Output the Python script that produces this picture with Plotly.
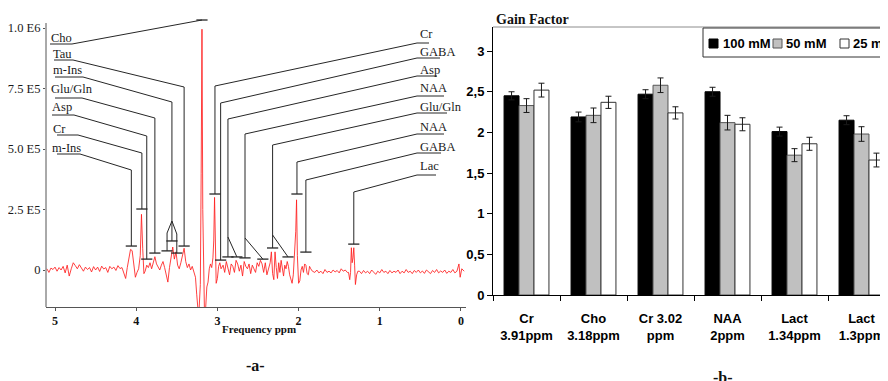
import plotly.graph_objects as go

# window is 888x381; the page body has an 8px margin, so the figure is 880x373
WIN_W, WIN_H = 888, 381
OX, OY = 8, 8
FW, FH = WIN_W - OX, WIN_H - OY

# ---------------- panel (a): spectrum data (intensity in units of 1e5) ----------------
ppm = [
    5.100, 5.075, 5.050, 5.025, 5.000, 4.975, 4.950, 4.925, 4.900, 4.875,
    4.850, 4.825, 4.800, 4.775, 4.750, 4.725, 4.700, 4.675, 4.650, 4.625,
    4.600, 4.575, 4.550, 4.525, 4.500, 4.475, 4.450, 4.425, 4.400, 4.375,
    4.350, 4.325, 4.300, 4.275, 4.250, 4.225, 4.200, 4.175, 4.150,
    4.13, 4.11, 4.09, 4.07, 4.05, 4.03, 4.01, 3.99, 3.97, 3.95,
    3.935, 3.92, 3.905, 3.89, 3.87, 3.85, 3.83, 3.81, 3.79, 3.77,
    3.75, 3.73, 3.71, 3.69, 3.67, 3.65, 3.63, 3.61, 3.59, 3.57,
    3.55, 3.53, 3.51, 3.49, 3.47, 3.45, 3.43, 3.41, 3.39, 3.37,
    3.35, 3.33, 3.31, 3.29,
    3.27, 3.255, 3.24, 3.225, 3.21, 3.20, 3.19, 3.18, 3.17, 3.16,
    3.145, 3.13, 3.115, 3.10, 3.085, 3.07, 3.055, 3.045, 3.035, 3.025,
    3.015, 3.00, 2.985, 2.97, 2.955,
    2.93, 2.91, 2.89, 2.87, 2.85, 2.83, 2.81, 2.79, 2.77, 2.75,
    2.73, 2.71, 2.69, 2.67, 2.65, 2.63, 2.61, 2.59, 2.57, 2.55,
    2.53, 2.51, 2.49, 2.47, 2.45, 2.43, 2.41, 2.39, 2.37, 2.35,
    2.335, 2.32, 2.305, 2.29, 2.275, 2.26, 2.245, 2.23, 2.215, 2.20,
    2.185, 2.17, 2.155, 2.14, 2.125, 2.11, 2.095, 2.08, 2.065, 2.05,
    2.035, 2.025, 2.015, 2.00, 1.985, 1.97, 1.955, 1.94, 1.925, 1.91,
    1.895, 1.88, 1.865, 1.85, 1.83,
    1.800, 1.775, 1.750, 1.725, 1.700, 1.675, 1.650, 1.625, 1.600, 1.575,
    1.550, 1.525, 1.500, 1.475, 1.450, 1.425, 1.400,
    1.385, 1.37, 1.36, 1.35, 1.34, 1.33, 1.32, 1.31, 1.30, 1.285, 1.27,
    1.250, 1.225, 1.200, 1.175, 1.150, 1.125, 1.100, 1.075, 1.050, 1.025,
    1.000, 0.975, 0.950, 0.925, 0.900, 0.875, 0.850, 0.825, 0.800, 0.775,
    0.750, 0.725, 0.700, 0.675, 0.650, 0.625, 0.600, 0.575, 0.550, 0.525,
    0.500, 0.475, 0.450, 0.425, 0.400, 0.375, 0.350, 0.325, 0.300, 0.275,
    0.250, 0.225, 0.200, 0.175, 0.150, 0.125, 0.100, 0.075, 0.050,
    0.025, 0.010, -0.010, -0.040,
]
intensity = [
    0.05, -0.10, 0.08, 0.02, 0.12, -0.05, 0.10, 0.00, 0.15, -0.12,
    0.20, -0.25, 0.05, 0.30, 0.18, 0.05, 0.22, 0.08, -0.05, 0.12,
    0.02, 0.10, -0.08, 0.14, 0.00, 0.12, -0.06, 0.16, 0.04, 0.10,
    -0.10, 0.15, 0.05, 0.12, -0.02, 0.18, 0.06, 0.10, -0.15,
    -0.35, 0.10, 0.45, 0.85, 0.80, 0.20, -0.30, -0.10, 0.05, 0.60,
    2.30, 0.90, -0.15, -0.05, 0.20, 0.10, 0.30, 0.05, 0.35, 0.55,
    0.25, 0.10, 0.00, 0.20, 0.35, 0.10, -0.25, -0.50, 0.10, 0.60,
    0.95, 0.45, 0.75, 0.20, 0.05, 0.30, 0.60, 0.90, 0.35, 0.10,
    0.25, 0.00, 0.15, -0.05,
    -0.30, -1.00, -1.60, -1.60, -0.60, 4.00, 9.95, 2.50, -1.00, -1.60,
    -1.60, -0.70, -0.50, 0.05, 0.25, 0.10, 0.50, 1.20, 3.00, 1.00,
    -0.55, -0.35, 0.15, 0.30, 0.05,
    0.20, -0.10, 0.35, 0.10, -0.20, 0.25, 0.15, -0.10, 0.40, 0.25,
    -0.05, 0.20, -0.25, 0.35, 0.15, 0.05, 0.25, -0.15, 0.20, 0.05,
    -0.10, 0.30, 0.15, 0.40, 0.25, -0.10, 0.30, -0.20, 0.10, 0.30,
    0.75, -0.15, -0.40, 0.75, 0.10, -0.35, 0.30, -0.10, 0.40, 0.05,
    -0.25, 0.20, 0.05, 0.35, 0.15, -0.20, -0.45, -0.55, -0.20, 0.50,
    1.60, 2.90, 0.60, -0.55, -0.45, 0.00, 0.15, -0.10, 0.25, 0.20,
    -0.15, -0.20, 0.15, 0.05, -0.05,
    -0.10, 0.00, -0.12, -0.05, -0.15, 0.02, -0.10, -0.05, -0.12, 0.00,
    -0.08, -0.02, -0.12, 0.05, -0.05, 0.00, -0.10,
    -0.10, -0.40, -0.10, 0.92, 0.30, 0.50, 0.92, 0.20, -0.60, -0.20, -0.05,
    -0.05, -0.15, -0.02, -0.12, -0.05, -0.15, 0.00, -0.10, -0.18, -0.05,
    -0.12, 0.02, -0.10, -0.05, -0.15, -0.02, -0.12, -0.05, -0.10, 0.00,
    -0.15, -0.05, -0.12, 0.02, -0.10, -0.05, -0.15, -0.02, -0.10, 0.00,
    -0.12, -0.04, -0.14, 0.00, -0.08, -0.15, -0.02, -0.10, 0.02, -0.12,
    -0.04, -0.10, 0.00, -0.14, -0.05, -0.10, 0.02, -0.12, -0.05,
    0.25, -0.30, 0.05, -0.05,
]
assert len(ppm) == len(intensity), (len(ppm), len(intensity))

spec_ytick_vals = [0, 2.5, 5, 7.5, 10]
spec_ytick_text = ["0", "2.5 E5", "5.0 E5", "7.5 E5", "1.0 E6"]
spec_xtick_vals = [5, 4, 3, 2, 1, 0]

# peak assignments (ppm, marker height in 1e5)
left_labels = ["Cho", "Tau", "m-Ins", "Glu/Gln", "Asp", "Cr", "m-Ins"]
left_ppm = [3.19, 3.41, 3.56, 3.77, 3.87, 3.93, 4.06]
left_mark = [10.33, 0.99, 1.20, 0.70, 0.45, 2.52, 0.99]
right_labels = ["Cr", "GABA", "Asp", "NAA", "Glu/Gln", "NAA", "GABA", "Lac"]
right_ppm = [3.03, 2.96, 2.87, 2.66, 2.32, 2.02, 1.91, 1.32]
right_mark = [3.14, 0.41, 0.54, 0.50, 0.91, 3.14, 0.74, 1.07]
# extra peaks sharing a label
branch_owner = [("L", 2), ("L", 2), ("R", 2), ("R", 3), ("R", 4)]
branch_ppm = [3.62, 3.50, 2.76, 2.44, 2.13]
branch_mark = [0.79, 0.70, 0.54, 0.45, 0.54]

# ---------------- panel (b): bar data ----------------
categories = ["Cr<br>3.91ppm", "Cho<br>3.18ppm", "Cr 3.02<br>ppm", "NAA<br>2ppm",
              "Lact<br>1.34ppm", "Lact<br>1.3ppm"]
series_names = ["100 mM", "50 mM", "25 mM"]
gain_100 = [2.45, 2.19, 2.47, 2.50, 2.01, 2.15]
gain_50 = [2.33, 2.21, 2.58, 2.12, 1.72, 1.98]
gain_25 = [2.52, 2.37, 2.24, 2.10, 1.86, 1.66]
err_100 = [0.05, 0.06, 0.055, 0.055, 0.055, 0.055]
err_50 = [0.085, 0.09, 0.09, 0.09, 0.08, 0.09]
err_25 = [0.085, 0.075, 0.075, 0.08, 0.08, 0.085]
bar_ytick_vals = [0, 0.5, 1, 1.5, 2, 2.5, 3]
bar_ytick_text = ["0", "0,5", "1", "1,5", "2", "2,5", "3"]

# ---------------- layout geometry (window pixels) ----------------
LX0, LX1, LY_TOP, LY_AX_TOP, LY1 = 46, 466, 12, 23, 307
ZERO_PY, PX_PER_UNIT = 270, 24.2
XR = [5.111, -0.062]
YR = [(ZERO_PY - LY1) / PX_PER_UNIT, (ZERO_PY - LY_TOP) / PX_PER_UNIT]
RX0, RY0, RY1 = 493, 27, 295


def px2ppm(px):
    return XR[0] + (px - LX0) / (LX1 - LX0) * (XR[1] - XR[0])


def py2val(py):
    return (ZERO_PY - py) / PX_PER_UNIT


def fx(px):
    return (px - OX) / FW


def fy(py):
    return 1 - (py - OY) / FH


# label layout: text_x, text_y, underline_x0, underline_x1, underline_y, elbow_y
left_layout = [
    (49, 38, 50, 72, 44, None),
    (51, 54, 54, 73, 60, 87),
    (51, 70, 55, 83, 77, 102),
    (49, 89, 55, 82, 98, 118),
    (50, 107, 52, 74, 115, 136),
    (51, 129, 57, 78, 135, 153),
    (50, 148, 57, 80, 154, 170),
]
right_layout = [
    (418, 34, 417, 429, 43, 86),
    (418, 52, 417, 440, 58, 103),
    (418, 70, 417, 437, 76, 119),
    (418, 88, 417, 444, 96, 134),
    (418, 107, 417, 447, 113, 145),
    (418, 127, 417, 444, 134, 162),
    (418, 147, 417, 441, 153, 180),
    (418, 166, 417, 436, 175, 192),
]
branch_layout = [(221, 233), (221, 234), (237, None), (238, None), (235, None)]

fig = go.Figure()

# spectrum
fig.add_trace(go.Scatter(x=ppm, y=intensity, mode="lines",
                         line=dict(color="rgba(255,30,30,0.85)", width=1),
                         hoverinfo="skip", xaxis="x", yaxis="y"))

# leader lines
lx, ly, mx, my = [], [], [], []
for side, labels, pk, mk, lay in (("L", left_labels, left_ppm, left_mark, left_layout),
                                  ("R", right_labels, right_ppm, right_mark, right_layout)):
    for i, name in enumerate(labels):
        tx, ty, u0, u1, uy, ey = lay[i]
        yv = py2val(uy)
        start = u1 if side == "L" else u0
        lx += [px2ppm(u0), px2ppm(u1), None]
        ly += [yv, yv, None]
        if ey is None:
            lx += [px2ppm(start), pk[i], None]
            ly += [yv, mk[i], None]
        else:
            lx += [px2ppm(start), pk[i], pk[i], None]
            ly += [yv, py2val(ey), mk[i], None]
        mx.append(pk[i])
        my.append(mk[i])
        fig.add_annotation(x=fx(tx), y=fy(ty), xref="paper", yref="paper", text=name,
                           showarrow=False, xanchor="left", yanchor="middle",
                           font=dict(family="Liberation Serif", size=12.5, color="#1a1a1a"))

for (side, idx), bp, bm, (fork_py, knee_py) in zip(branch_owner, branch_ppm, branch_mark, branch_layout):
    owner_ppm = left_ppm[idx] if side == "L" else right_ppm[idx]
    if knee_py is None:
        lx += [owner_ppm, bp, None]
        ly += [py2val(fork_py), bm, None]
    else:
        lx += [owner_ppm, bp, bp, None]
        ly += [py2val(fork_py), py2val(knee_py), bm, None]
    mx.append(bp)
    my.append(bm)

fig.add_trace(go.Scatter(x=lx, y=ly, mode="lines", line=dict(color="#262626", width=1),
                         hoverinfo="skip", xaxis="x", yaxis="y"))
fig.add_trace(go.Scatter(x=mx, y=my, mode="markers",
                         marker=dict(symbol="line-ew", size=8, line=dict(color="#262626", width=1.3)),
                         hoverinfo="skip", xaxis="x", yaxis="y", cliponaxis=False))

# bars
fills = ["#000000", "#c0c0c0", "#ffffff"]
edges = ["#000000", "#555555", "#333333"]
for name, vals, errs, fc, ec in zip(series_names, [gain_100, gain_50, gain_25],
                                    [err_100, err_50, err_25], fills, edges):
    fig.add_trace(go.Bar(x=categories, y=vals, name=name,
                         marker=dict(color=fc, line=dict(color=ec, width=1)),
                         error_y=dict(type="data", array=errs, color="#1a1a1a", thickness=1, width=3),
                         xaxis="x2", yaxis="y2"))

serif_axis_font = dict(family="Liberation Serif", size=12.5, color="#1a1a1a")
fig.update_layout(
    template="none",
    width=FW, height=FH,
    margin=dict(l=0, r=0, t=0, b=0),
    paper_bgcolor="white", plot_bgcolor="rgba(0,0,0,0)",
    showlegend=False,
    barmode="group", bargap=0.33, bargroupgap=0,
    xaxis=dict(domain=[fx(LX0), fx(LX1)], range=XR, tickvals=spec_xtick_vals,
               showgrid=False, zeroline=False, showline=True, linecolor="#555", linewidth=1,
               ticks="outside", ticklen=3, tickcolor="#555",
               tickfont=dict(family="Liberation Serif", size=12, color="#111", weight="bold"),
               anchor="y"),
    yaxis=dict(domain=[fy(LY1), fy(LY_TOP)], range=YR, tickvals=spec_ytick_vals, ticktext=spec_ytick_text,
               showgrid=False, zeroline=False, showline=False,
               ticks="outside", ticklen=2, tickcolor="#555", tickfont=serif_axis_font,
               anchor="x"),
    xaxis2=dict(domain=[fx(RX0), 1.0], range=[-0.5, -0.5 + (WIN_W - RX0) / 67.0], type="category",
                showgrid=False, zeroline=False, showline=True, linecolor="#000", linewidth=1,
                ticks="outside", ticklen=5, tickcolor="#000", tickson="boundaries",
                ticklabelstandoff=11,
                tickfont=dict(family="Liberation Sans", size=13, color="#000", weight="bold"),
                anchor="y2"),
    yaxis2=dict(domain=[fy(RY1), fy(RY0)], range=[0, (RY1 - RY0) / 81.3],
                tickvals=bar_ytick_vals, ticktext=bar_ytick_text,
                showgrid=False, zeroline=False, showline=True, linecolor="#000", linewidth=1,
                ticks="outside", ticklen=5, tickcolor="#000",
                tickfont=dict(family="Liberation Sans", size=13, color="#000", weight="bold"),
                anchor="x2"),
)

# left-panel y axis line (shorter than the plotting area so the top marker fits)
fig.add_shape(type="line", xref="paper", yref="paper", x0=fx(LX0), x1=fx(LX0),
              y0=fy(LY1), y1=fy(LY_AX_TOP), line=dict(color="#555", width=1))

# top frame of bar panel
fig.add_shape(type="line", xref="paper", yref="paper", x0=fx(RX0), x1=1.0, y0=fy(RY0), y1=fy(RY0),
              line=dict(color="#8c8c8c", width=1))

# manual legend
fig.add_shape(type="rect", xref="paper", yref="paper", x0=fx(703), x1=fx(905), y0=fy(57), y1=fy(28),
              line=dict(color="#333", width=1), fillcolor="white")
leg_sq_x = [709, 773, 840]
leg_tx_x = [721, 784, 851]
for name, fc, ec, sx, tx in zip(series_names, fills, edges, leg_sq_x, leg_tx_x):
    fig.add_shape(type="rect", xref="paper", yref="paper", x0=fx(sx), x1=fx(sx + 9),
                  y0=fy(48), y1=fy(39), line=dict(color=ec, width=1), fillcolor=fc)
    fig.add_annotation(x=fx(tx), y=fy(43.5), xref="paper", yref="paper", text=name, showarrow=False,
                       xanchor="left", yanchor="middle",
                       font=dict(family="Liberation Sans", size=13, color="#000", weight="bold"))

# texts
fig.add_annotation(x=fx(258.5), y=fy(329), xref="paper", yref="paper", text="<b>Frequency ppm</b>",
                   showarrow=False, xanchor="center", yanchor="middle",
                   font=dict(family="Liberation Serif", size=11, color="#111"))
fig.add_annotation(x=fx(255), y=fy(365), xref="paper", yref="paper", text="<b>-a-</b>",
                   showarrow=False, xanchor="center", yanchor="middle",
                   font=dict(family="Liberation Serif", size=16, color="#111"))
fig.add_annotation(x=fx(723), y=fy(377), xref="paper", yref="paper", text="<b>-b-</b>",
                   showarrow=False, xanchor="center", yanchor="middle",
                   font=dict(family="Liberation Serif", size=16, color="#111"))
fig.add_annotation(x=fx(494), y=fy(19), xref="paper", yref="paper", text="<b>Gain Factor</b>",
                   showarrow=False, xanchor="left", yanchor="middle",
                   font=dict(family="Liberation Serif", size=14, color="#111"))

fig.write_html("out.html")
